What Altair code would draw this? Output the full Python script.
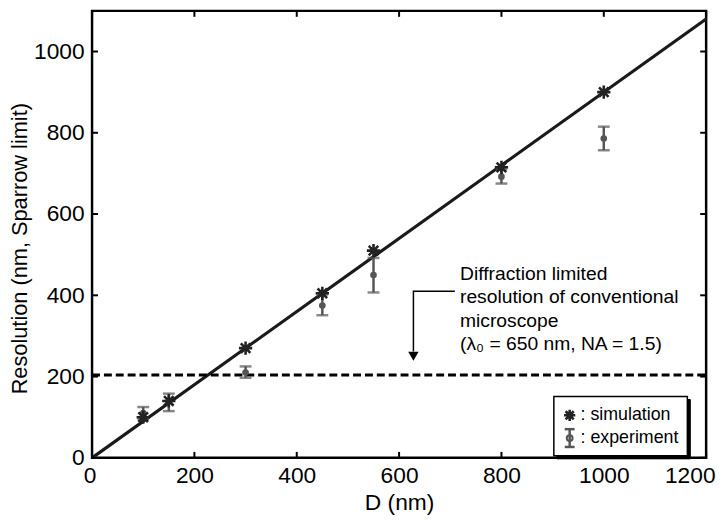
import altair as alt
import pandas as pd

# ---- data ----
D_values = [100, 150, 300, 450, 550, 800, 1000]
sim_res = [100, 140, 270, 405, 510, 715, 900]
exp_res = [110, 138, 210, 375, 450, 692, 786]
exp_lo = [95, 115, 197, 351, 407, 675, 757]
exp_hi = [125, 158, 225, 402, 492, 710, 815]

fit_x = [0, 1200]
fit_y = [0, 1080]

limit_y = 204
limit_x = [0, 1200]

arrow_x = [709, 628, 628]
arrow_y = [410, 410, 262]
arrow_tip = (628, 250)

note_lines = ["Diffraction limited", "resolution of conventional",
              "microscope", "(λ₀ = 650 nm, NA = 1.5)"]
note_pos = (719, 475)

x_ticks = [0, 200, 400, 600, 800, 1000, 1200]
y_ticks = [0, 200, 400, 600, 800, 1000]

legend_labels = [": simulation", ": experiment"]

W, H = 621, 452
FONT = "Liberation Sans"

xs = alt.Scale(domain=[0, 1200], nice=False, zero=False)
ys = alt.Scale(domain=[0, 1100], nice=False, zero=False)

pts = pd.DataFrame({"D": D_values, "sim": sim_res, "exp": exp_res,
                    "lo": exp_lo, "hi": exp_hi})
fit = pd.DataFrame({"x": fit_x, "y": fit_y})
lim = pd.DataFrame({"x": limit_x, "y": [limit_y, limit_y]})
arr = pd.DataFrame({"x": arrow_x, "y": arrow_y, "o": list(range(len(arrow_x)))})
tip = pd.DataFrame({"x": [arrow_tip[0]], "y": [arrow_tip[1]]})
note = pd.DataFrame({"x": [note_pos[0]], "y": [note_pos[1]], "t": ["\n".join(note_lines)]})
xt = pd.DataFrame({"v": x_ticks})
yt = pd.DataFrame({"v": y_ticks})

asterisk = "M0,-1L0,1M-1,0L1,0M-0.72,-0.72L0.72,0.72M-0.72,0.72L0.72,-0.72"

xaxis = alt.Axis(values=x_ticks, title="D (nm)", grid=False, domain=False, ticks=False,
                 format="d", labelPadding=7, titlePadding=4, labelFlush=True,
                 labelFlushOffset=9)
yaxis = alt.Axis(values=y_ticks, title="Resolution (nm, Sparrow limit)", grid=False,
                 domain=False, ticks=False, format="d", labelPadding=8, titlePadding=2,
                 labelFlush=False, titleY=240, titleFontSize=22)

base_fit = alt.Chart(fit).mark_line(color="#1a1a1a", strokeWidth=3.2).encode(
    x=alt.X("x:Q", scale=xs, axis=xaxis),
    y=alt.Y("y:Q", scale=ys, axis=yaxis),
)

limit_line = alt.Chart(lim).mark_line(color="black", strokeWidth=3, strokeDash=[8, 4]).encode(
    x=alt.X("x:Q", scale=xs), y=alt.Y("y:Q", scale=ys))

err = alt.Chart(pts).mark_rule(color="#555555", strokeWidth=2.5).encode(
    x=alt.X("D:Q", scale=xs), y=alt.Y("lo:Q", scale=ys), y2="hi:Q")
cap_lo = alt.Chart(pts).mark_tick(color="#555555", thickness=2.5, size=12, orient="horizontal").encode(
    x=alt.X("D:Q", scale=xs), y=alt.Y("lo:Q", scale=ys))
cap_hi = alt.Chart(pts).mark_tick(color="#555555", thickness=2.5, size=12, orient="horizontal").encode(
    x=alt.X("D:Q", scale=xs), y=alt.Y("hi:Q", scale=ys))
exp_pts = alt.Chart(pts).mark_point(shape="circle", filled=True, color="#555555", size=45, opacity=1).encode(
    x=alt.X("D:Q", scale=xs), y=alt.Y("exp:Q", scale=ys))
sim_pts = alt.Chart(pts).mark_point(shape=asterisk, filled=False, color="#222222", size=180,
                                    strokeWidth=2.6, opacity=1).encode(
    x=alt.X("D:Q", scale=xs), y=alt.Y("sim:Q", scale=ys))

arrow_line = alt.Chart(arr).mark_line(color="black", strokeWidth=1.5).encode(
    x=alt.X("x:Q", scale=xs), y=alt.Y("y:Q", scale=ys), order="o:Q")
arrow_head = alt.Chart(tip).mark_point(shape="triangle-down", filled=True, color="black",
                                       size=110, opacity=1).encode(
    x=alt.X("x:Q", scale=xs), y=alt.Y("y:Q", scale=ys))
note_text = alt.Chart(note).mark_text(align="left", baseline="top", fontSize=19.5, font=FONT,
                                      lineBreak="\n", lineHeight=23.7, color="black").encode(
    x=alt.X("x:Q", scale=xs), y=alt.Y("y:Q", scale=ys), text="t:N")

# inward ticks on all four sides
tb = alt.Chart(xt).mark_rule(color="black", strokeWidth=2).encode(
    x=alt.X("v:Q", scale=xs), y=alt.value(H), y2=alt.value(H - 6))
tt = alt.Chart(xt).mark_rule(color="black", strokeWidth=2).encode(
    x=alt.X("v:Q", scale=xs), y=alt.value(0), y2=alt.value(6))
tl = alt.Chart(yt).mark_rule(color="black", strokeWidth=2).encode(
    y=alt.Y("v:Q", scale=ys), x=alt.value(0), x2=alt.value(6))
tr = alt.Chart(yt).mark_rule(color="black", strokeWidth=2).encode(
    y=alt.Y("v:Q", scale=ys), x=alt.value(W), x2=alt.value(W - 6))

# legend box
one = pd.DataFrame({"a": [0]})
lg_shadow = alt.Chart(one).mark_rect(fill="black", stroke="black", strokeWidth=1).encode(
    x=alt.value(470), x2=alt.value(605), y=alt.value(393), y2=alt.value(453))
lg_box = alt.Chart(one).mark_rect(fill="white", stroke="black", strokeWidth=1.5).encode(
    x=alt.value(467), x2=alt.value(602), y=alt.value(390), y2=alt.value(450))
lg_sym1 = alt.Chart(one).mark_point(shape=asterisk, filled=False, color="#222222",
                                    size=130, strokeWidth=2.6, opacity=1).encode(
    x=alt.value(483), y=alt.value(409))
lg_bar = alt.Chart(one).mark_rule(color="#555555", strokeWidth=2.5).encode(
    x=alt.value(483), y=alt.value(423), y2=alt.value(441))
lg_cap1 = alt.Chart(one).mark_rule(color="#555555", strokeWidth=2.5).encode(
    x=alt.value(478), x2=alt.value(488), y=alt.value(423))
lg_cap2 = alt.Chart(one).mark_rule(color="#555555", strokeWidth=2.5).encode(
    x=alt.value(478), x2=alt.value(488), y=alt.value(441))
lg_sym2 = alt.Chart(one).mark_point(shape="circle", filled=False, color="#555555",
                                    size=35, strokeWidth=2, opacity=1).encode(
    x=alt.value(483), y=alt.value(432))
lg_txt = alt.Chart(pd.DataFrame({"t": legend_labels, "yy": [409, 432]})).mark_text(
    align="left", baseline="middle", fontSize=18, font=FONT, color="black").encode(
    x=alt.value(494), y=alt.Y("yy:Q", scale=None), text="t:N")

chart = alt.layer(
    base_fit, limit_line, err, cap_lo, cap_hi, exp_pts, sim_pts,
    arrow_line, arrow_head, note_text, tb, tt, tl, tr,
    lg_shadow, lg_box, lg_sym1, lg_bar, lg_cap1, lg_cap2, lg_sym2, lg_txt,
).properties(
    width=W, height=H,
    autosize=alt.AutoSizeParams(type="none"),
    padding={"left": 85, "top": 0, "right": 12, "bottom": 64},
).configure_view(
    stroke="black", strokeWidth=2.5
).configure_axis(
    labelFont=FONT, titleFont=FONT, labelFontSize=23, titleFontSize=23,
    labelColor="black", titleColor="black", titleFontWeight="normal",
)

chart.save("out.html", embed_options={"renderer": "svg", "actions": False})
